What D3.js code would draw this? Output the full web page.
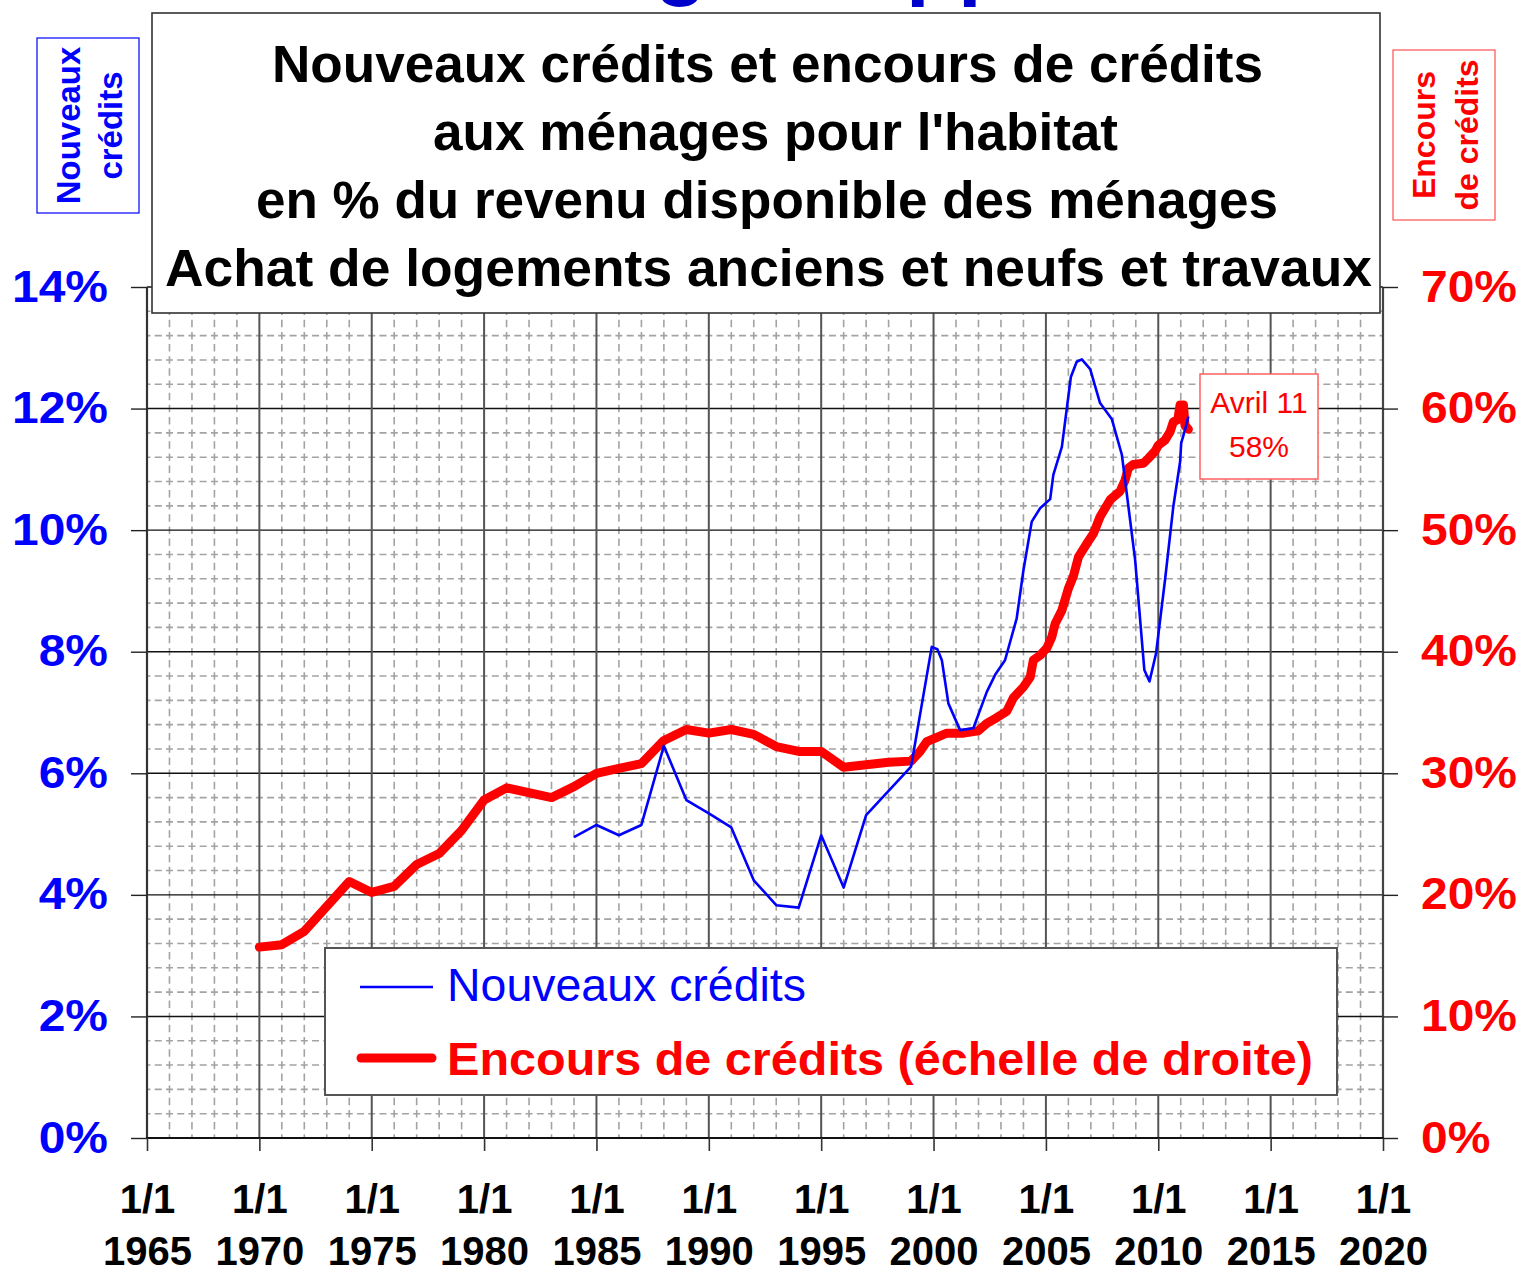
<!DOCTYPE html>
<html>
<head>
<meta charset="utf-8">
<script src="https://cdn.jsdelivr.net/npm/d3@7"></script>
<style>
  html, body { margin: 0; padding: 0; background: #fff; }
  svg { display: block; }
  text { font-family: "Liberation Sans", Arial, sans-serif; }
</style>
</head>
<body>
<svg id="chart" width="1521" height="1268"></svg>
<script>
// ---------- DATA ----------
const titleLines = [
  "Nouveaux crédits et encours de crédits",
  "aux ménages pour l'habitat",
  "en % du revenu disponible des ménages",
  "Achat de logements anciens et neufs et travaux"
];
const xTickYears = [1965, 1970, 1975, 1980, 1985, 1990, 1995, 2000, 2005, 2010, 2015, 2020];
const xTickPrefix = "1/1";
const leftTicks = [0, 2, 4, 6, 8, 10, 12, 14];
const rightTicks = [0, 10, 20, 30, 40, 50, 60, 70];

// Nouveaux crédits (% du revenu disponible, échelle de gauche)
const nouveauxDates = [1984, 1985, 1986, 1987, 1988, 1989, 1990, 1991, 1992, 1993, 1994, 1995, 1996, 1997, 1998, 1999,
  1999.92, 2000.17, 2000.37, 2000.66, 2001.18, 2001.77, 2002.37, 2002.74, 2003.18, 2003.70, 2004.0, 2004.37, 2004.74,
  2005.19, 2005.33, 2005.71, 2006.11, 2006.37, 2006.60, 2006.97, 2007.41, 2007.93, 2008.38, 2008.97, 2009.38, 2009.61,
  2009.90, 2010.30, 2010.67, 2010.97, 2011.02, 2011.19, 2011.34];
const nouveauxValues = [4.95, 5.15, 4.98, 5.15, 6.45, 5.56, 5.34, 5.11, 4.24, 3.83, 3.79, 4.98, 4.12, 5.31, 5.71, 6.11,
  8.08, 8.04, 7.86, 7.15, 6.71, 6.74, 7.34, 7.62, 7.86, 8.55, 9.34, 10.14, 10.36,
  10.51, 10.91, 11.37, 12.52, 12.77, 12.81, 12.65, 12.09, 11.83, 11.24, 9.51, 7.70, 7.51,
  7.97, 9.18, 10.39, 11.12, 11.43, 11.65, 11.87];

// Encours de crédits (% du revenu disponible, échelle de droite)
const encoursDates = [1970, 1971, 1972, 1974, 1975, 1976, 1977, 1978, 1979, 1980, 1981, 1983, 1984, 1985, 1986, 1987,
  1988, 1989, 1990, 1991, 1992, 1993, 1994, 1995, 1996, 1997, 1998, 1999,
  1999.40, 1999.70, 2000.07, 2000.59, 2001.33, 2001.63, 2002.0, 2002.37, 2002.74, 2003.26, 2003.55, 2004.0, 2004.30,
  2004.44, 2004.74, 2005.04, 2005.26, 2005.41, 2005.71, 2006.0, 2006.22, 2006.45, 2006.82, 2007.11, 2007.41, 2007.86,
  2008.30, 2008.52, 2008.67, 2008.89, 2009.34, 2009.56, 2009.86, 2010.01, 2010.30, 2010.53, 2010.67, 2010.87, 2010.97,
  2011.12, 2011.19, 2011.34];
const encoursValues = [15.7, 15.9, 17.0, 21.1, 20.2, 20.7, 22.5, 23.4, 25.3, 27.8, 28.8, 28.0, 28.9, 30.0, 30.4, 30.8,
  32.7, 33.6, 33.3, 33.6, 33.2, 32.2, 31.8, 31.8, 30.5, 30.7, 30.9, 31.0,
  31.8, 32.6, 32.9, 33.3, 33.3, 33.4, 33.5, 34.1, 34.5, 35.1, 36.2, 37.1, 37.9,
  39.3, 39.7, 40.3, 41.2, 42.3, 43.4, 45.2, 46.2, 47.8, 48.9, 49.7, 51.1, 52.5,
  53.2, 54.1, 55.1, 55.4, 55.5, 55.9, 56.5, 57.0, 57.4, 58.1, 58.9, 59.1, 60.3,
  60.3, 58.6, 58.3];

const annotationLines = ["Avril 11", "58%"];
const legendLabels = ["Nouveaux crédits", "Encours de crédits (échelle de droite)"];
const leftBoxLines = ["Nouveaux", "crédits"];
const rightBoxLines = ["Encours", "de crédits"];

// ---------- LAYOUT ----------
const svg = d3.select("#chart");
const L = 147, R = 1383, T = 287, B = 1138;
const BLUE = "#0000ff", RED = "#ff0000";

const x = d3.scaleLinear().domain([1965, 2020]).range([L, R]);
const yL = d3.scaleLinear().domain([0, 14]).range([B, T]);
const yR = d3.scaleLinear().domain([0, 70]).range([B, T]);

// partial blue heading cut off at the top
const topG = svg.append("g").attr("fill", "#0000cc").attr("font-weight", "bold").attr("font-size", 85);
topG.append("text").attr("x", 655).attr("y", -11).text("g");
topG.append("text").attr("x", 906).attr("y", -11).text("pp");

// ---------- GRID ----------
const grid = svg.append("g");
const minorYears = d3.range(1965, 2021).filter(d => d % 5 !== 0);
const minorVals = d3.range(0, 14.001, 0.4).filter(v => Math.abs(v / 2 - Math.round(v / 2)) > 1e-6);
const yStep = (B - T) / 35;
const xStep = (R - L) / 55;

grid.selectAll(".hminor").data(minorVals).join("line")
  .attr("x1", L).attr("x2", R)
  .attr("y1", d => yL(d)).attr("y2", d => yL(d))
  .attr("stroke", "#a3a3a3").attr("stroke-width", 1.6)
  .attr("stroke-dasharray", `7 ${xStep / 2 - 7}`).attr("stroke-dashoffset", 3.5);

grid.selectAll(".vminor").data(minorYears).join("line")
  .attr("x1", d => x(d)).attr("x2", d => x(d))
  .attr("y1", T).attr("y2", B)
  .attr("stroke", "#a3a3a3").attr("stroke-width", 1.6)
  .attr("stroke-dasharray", `7.5 ${yStep / 2 - 7.5}`).attr("stroke-dashoffset", 3.75);

grid.selectAll(".hmajor").data(leftTicks.filter(d => d > 0)).join("line")
  .attr("x1", L).attr("x2", R)
  .attr("y1", d => yL(d)).attr("y2", d => yL(d))
  .attr("stroke", "#111").attr("stroke-width", 1.4);

grid.selectAll(".vmajor").data(xTickYears.filter(d => d > 1965 && d < 2020)).join("line")
  .attr("x1", d => x(d)).attr("x2", d => x(d))
  .attr("y1", T).attr("y2", B)
  .attr("stroke", "#555").attr("stroke-width", 2);

// frame
grid.append("line").attr("x1", L).attr("x2", L).attr("y1", T).attr("y2", B + 1)
  .attr("stroke", "#333").attr("stroke-width", 2.2);
grid.append("line").attr("x1", R).attr("x2", R).attr("y1", T).attr("y2", B + 1)
  .attr("stroke", "#444").attr("stroke-width", 2.2);
grid.append("line").attr("x1", L - 1).attr("x2", R + 1).attr("y1", B).attr("y2", B)
  .attr("stroke", "#111").attr("stroke-width", 2);

// ---------- AXES ----------
const axisFont = g => g.selectAll("text")
  .attr("font-family", '"Liberation Sans", Arial, sans-serif')
  .attr("font-weight", "bold").attr("font-size", 44);
const widen = sel => sel.each(function () {
  const len = this.getComputedTextLength();
  d3.select(this).attr("textLength", len * 1.09).attr("lengthAdjust", "spacingAndGlyphs");
});

const gLeft = svg.append("g").attr("transform", `translate(${L},0)`)
  .call(d3.axisLeft(yL).tickValues(leftTicks).tickFormat(d => d + "%").tickSize(16).tickPadding(23));
gLeft.select(".domain").remove();
gLeft.selectAll("line").attr("stroke", "#222").attr("stroke-width", 1.4);
gLeft.call(axisFont).selectAll("text").attr("fill", BLUE).call(widen);

const gRight = svg.append("g").attr("transform", `translate(${R},0)`)
  .call(d3.axisRight(yR).tickValues(rightTicks).tickFormat(d => d + "%").tickSize(15).tickPadding(23));
gRight.select(".domain").remove();
gRight.selectAll("line").attr("stroke", "#222").attr("stroke-width", 1.4);
gRight.call(axisFont).selectAll("text").attr("fill", RED).call(widen);

const gBottom = svg.append("g").attr("transform", `translate(0,${B})`)
  .call(d3.axisBottom(x).tickValues(xTickYears).tickFormat("").tickSize(13));
gBottom.select(".domain").remove();
gBottom.selectAll("line").attr("stroke", "#333").attr("stroke-width", 1.6);
gBottom.selectAll(".tick").append("text")
  .attr("text-anchor", "middle").attr("fill", "#000")
  .attr("font-weight", "bold").attr("font-size", 40)
  .attr("font-family", '"Liberation Sans", Arial, sans-serif')
  .each(function (d) {
    const t = d3.select(this);
    t.append("tspan").attr("x", 0).attr("y", 75).text(xTickPrefix);
    t.append("tspan").attr("x", 0).attr("y", 127).text(d);
  });

// ---------- SERIES ----------
const encours = encoursDates.map((d, i) => [d, encoursValues[i]]);
const nouveaux = nouveauxDates.map((d, i) => [d, nouveauxValues[i]]);

svg.append("path").datum(encours)
  .attr("d", d3.line().x(d => x(d[0])).y(d => yR(d[1])))
  .attr("fill", "none").attr("stroke", RED).attr("stroke-width", 9)
  .attr("stroke-linejoin", "round").attr("stroke-linecap", "round");

svg.append("path").datum(nouveaux)
  .attr("d", d3.line().x(d => x(d[0])).y(d => yL(d[1])))
  .attr("fill", "none").attr("stroke", BLUE).attr("stroke-width", 2.6)
  .attr("stroke-linejoin", "round");

// ---------- LEGEND ----------
const lg = svg.append("g");
lg.append("rect").attr("x", 325).attr("y", 948).attr("width", 1012).attr("height", 147)
  .attr("fill", "#fff").attr("stroke", "#555").attr("stroke-width", 2);
lg.append("line").attr("x1", 360).attr("x2", 433).attr("y1", 987).attr("y2", 987)
  .attr("stroke", BLUE).attr("stroke-width", 2.6);
lg.append("text").attr("x", 447).attr("y", 1001).attr("fill", BLUE)
  .attr("font-size", 46).attr("textLength", 359).attr("lengthAdjust", "spacingAndGlyphs")
  .text(legendLabels[0]);
lg.append("line").attr("x1", 361).attr("x2", 432).attr("y1", 1058).attr("y2", 1058)
  .attr("stroke", RED).attr("stroke-width", 9).attr("stroke-linecap", "round");
lg.append("text").attr("x", 447).attr("y", 1075).attr("fill", RED)
  .attr("font-size", 46).attr("font-weight", "bold")
  .attr("textLength", 866).attr("lengthAdjust", "spacingAndGlyphs")
  .text(legendLabels[1]);

// ---------- TITLE ----------
const tg = svg.append("g");
tg.append("rect").attr("x", 152).attr("y", 13).attr("width", 1228).attr("height", 300)
  .attr("fill", "#fff").attr("stroke", "#333").attr("stroke-width", 1.6);
const titleGeom = [[767.5, 82, 991], [775.5, 150, 685], [767, 218, 1022], [768.5, 286, 1207]];
tg.selectAll(".tl").data(titleLines).join("text")
  .attr("x", (d, i) => titleGeom[i][0]).attr("y", (d, i) => titleGeom[i][1])
  .attr("text-anchor", "middle").attr("font-weight", "bold").attr("font-size", 51)
  .attr("textLength", (d, i) => titleGeom[i][2]).attr("lengthAdjust", "spacingAndGlyphs")
  .attr("fill", "#000").text(d => d);

// ---------- SIDE BOXES ----------
const lb = svg.append("g");
lb.append("rect").attr("x", 37).attr("y", 38).attr("width", 102).attr("height", 175)
  .attr("fill", "#fff").attr("stroke", BLUE).attr("stroke-width", 1.2);
lb.selectAll(".lbt").data(leftBoxLines).join("text")
  .attr("transform", (d, i) => `translate(${[80, 122][i]},125.5) rotate(-90)`)
  .attr("text-anchor", "middle").attr("font-weight", "bold").attr("font-size", 33)
  .attr("fill", BLUE).text(d => d);

const rb = svg.append("g");
rb.append("rect").attr("x", 1393).attr("y", 50).attr("width", 102).attr("height", 170)
  .attr("fill", "#fff").attr("stroke", "#ff5050").attr("stroke-width", 1.2);
rb.selectAll(".rbt").data(rightBoxLines).join("text")
  .attr("transform", (d, i) => `translate(${[1435, 1478][i]},135) rotate(-90)`)
  .attr("text-anchor", "middle").attr("font-weight", "bold").attr("font-size", 32)
  .attr("fill", RED).text(d => d);

// ---------- ANNOTATION ----------
const an = svg.append("g");
an.append("rect").attr("x", 1200).attr("y", 374).attr("width", 118).attr("height", 105)
  .attr("fill", "#fff").attr("stroke", "#ff6060").attr("stroke-width", 1.5);
an.selectAll(".at").data(annotationLines).join("text")
  .attr("x", 1259).attr("y", (d, i) => [413, 457][i])
  .attr("text-anchor", "middle").attr("font-size", 30).attr("fill", RED).text(d => d);
</script>
</body>
</html>
